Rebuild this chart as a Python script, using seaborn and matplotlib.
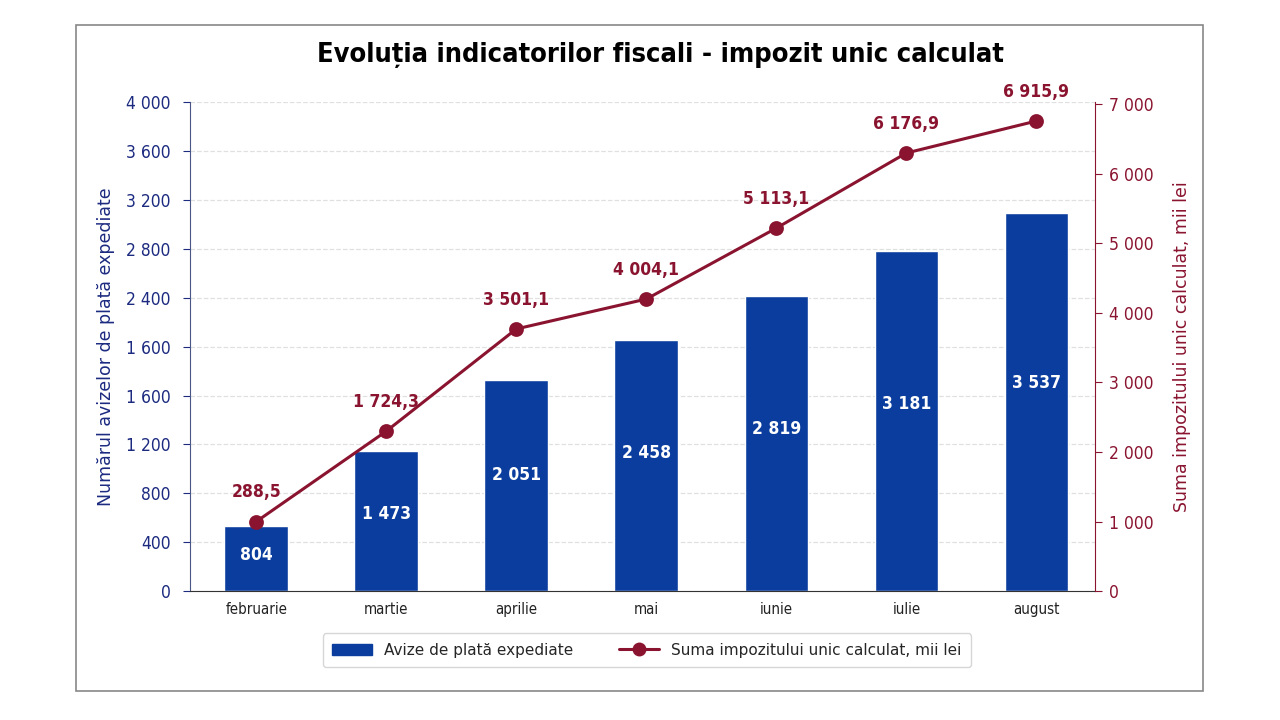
import matplotlib
matplotlib.use("Agg")
import matplotlib.pyplot as plt
import matplotlib.patches as mpatches
from matplotlib.lines import Line2D
import seaborn as sns

months = ["februarie", "martie", "aprilie", "mai", "iunie", "iulie", "august"]
# bar heights as drawn against the left axis
avize_heights = [532, 1145, 1726, 2053, 2413, 2781, 3092]
avize_labels = ["804", "1 473", "2 051", "2 458", "2 819", "3 181", "3 537"]
# point heights as drawn against the right axis
suma_heights = [1000, 2300, 3770, 4200, 5220, 6300, 6760]
suma_labels = ["288,5", "1 724,3", "3 501,1", "4 004,1", "5 113,1", "6 176,9", "6 915,9"]

left_ticks = [0, 400, 800, 1200, 1600, 2000, 2400, 2800, 3200, 3600, 4000]
left_tick_labels = ["0", "400", "800", "1 200", "1 600", "1 600", "2 400",
                    "2 800", "3 200", "3 600", "4 000"]
right_ticks = [0, 1000, 2000, 3000, 4000, 5000, 6000, 7000]
right_tick_labels = ["0", "1 000", "2 000", "3 000", "4 000", "5 000", "6 000", "7 000"]

BLUE = "#0a3d9d"
RED = "#8a1430"
NAVY = "#1c2a80"

sns.set_style("white")
plt.rcParams["font.family"] = ["DejaVu Sans"]

fig = plt.figure(figsize=(12.8, 7.2), dpi=100)
ax = fig.add_axes([0.1484, 0.179, 0.707, 0.679])
ax2 = ax.twinx()

sns.barplot(x=months, y=avize_heights, color=BLUE, saturation=1, width=0.49, ax=ax, zorder=2)
sns.pointplot(x=months, y=suma_heights, color=RED, markers="o", linestyles="-",
              markersize=9, linewidth=2.2, ax=ax2)

ax.set_xlim(-0.51, 6.45)
ax.set_ylim(0, 4000)
ax2.set_ylim(0, 7030)

ax.set_yticks(left_ticks)
ax.set_yticklabels(left_tick_labels, fontsize=12.5, color=NAVY, fontstretch="condensed")
ax2.set_yticks(right_ticks)
ax2.set_yticklabels(right_tick_labels, fontsize=12.5, color=RED, fontstretch="condensed")
for t in ax.get_xticklabels():
    t.set_fontstretch("condensed")
ax.tick_params(axis="x", labelsize=10.8, colors="#222222", length=4, color="#333333")
ax.tick_params(axis="y", length=5, color=NAVY, pad=9)
ax2.tick_params(axis="y", length=5, color=RED, pad=5)

ax.grid(axis="y", color="#e0e0e0", linestyle="--", linewidth=0.9, zorder=0)
ax.set_axisbelow(True)

for a in (ax, ax2):
    a.spines["top"].set_visible(False)
ax.spines["right"].set_visible(False)
ax2.spines["left"].set_visible(False)
ax2.spines["bottom"].set_visible(False)
ax.spines["left"].set_color("#4a5588")
ax.spines["bottom"].set_color("#333333")
ax2.spines["right"].set_color(RED)

ax.set_xlabel("")
ax.set_ylabel("Numărul avizelor de plată expediate", fontsize=12.5, color=NAVY, labelpad=8)
ax2.set_ylabel("Suma impozitului unic calculat, mii lei", fontsize=12.5, color=RED, labelpad=14)

for i, (h, lab) in enumerate(zip(avize_heights, avize_labels)):
    ax.text(i, h * 0.55, lab, ha="center", va="center", color="white",
            fontsize=12.5, fontweight="bold", fontstretch="condensed", zorder=3)

for i, (h, lab) in enumerate(zip(suma_heights, suma_labels)):
    ax2.annotate(lab, (i, h), xytext=(0, 21), textcoords="offset points",
                 ha="center", va="center", color=RED, fontsize=12.5,
                 fontweight="bold", fontstretch="condensed", annotation_clip=False)

fig.text(0.516, 0.924, "Evoluția indicatorilor fiscali - impozit unic calculat",
         ha="center", va="center", fontsize=19.5, fontweight="bold",
         fontstretch="condensed", color="black")

handles = [mpatches.Patch(color=BLUE, label="Avize de plată expediate"),
           Line2D([0], [0], color=RED, marker="o", markersize=9, linewidth=2.2,
                  label="Suma impozitului unic calculat, mii lei")]
fig.legend(handles=handles, loc="center", bbox_to_anchor=(0.5055, 0.097), ncol=2,
           frameon=True, fontsize=11, edgecolor="#cccccc", columnspacing=3,
           handlelength=2.6, borderpad=0.6)

fig.patches.append(mpatches.Rectangle((0.0594, 0.0403), 0.8805, 0.925,
                                      transform=fig.transFigure, fill=False,
                                      edgecolor="#888888", linewidth=1.2))

fig.savefig("out.png", dpi=100)
